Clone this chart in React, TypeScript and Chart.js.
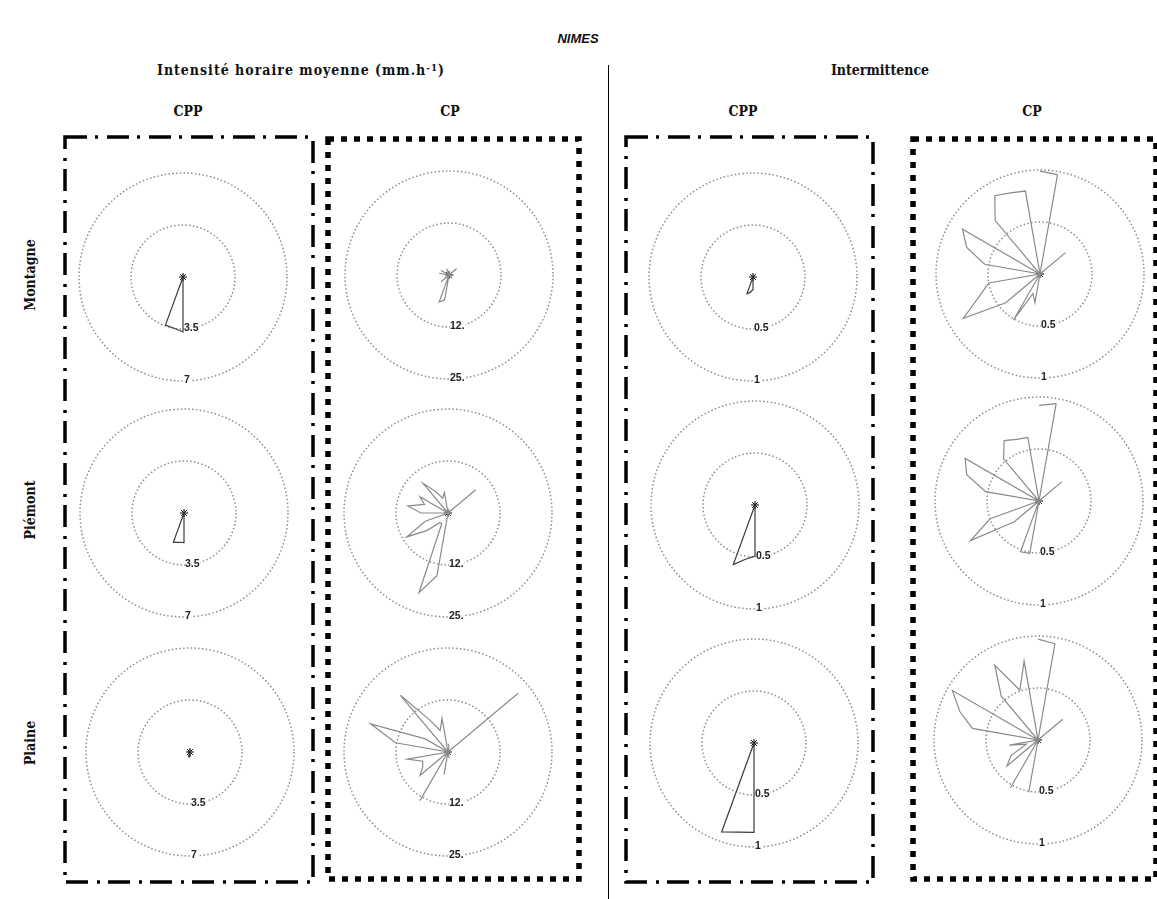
import React, { useEffect, useRef } from 'react';
import { Chart, registerables } from 'chart.js';

Chart.register(...registerables);

// ---------- DATA ----------
const directions = [
  '0', '10', '20', '30', '40', '50', '60', '70', '80', '90', '100', '110',
  '120', '130', '140', '150', '160', '170', '180', '190', '200', '210', '220', '230',
  '240', '250', '260', '270', '280', '290', '300', '310', '320', '330', '340', '350',
];

const stationTitle = 'NIMES';
const zones = ['Montagne', 'Piémont', 'Plaine'];
const groups = ['CPP', 'CP', 'CPP', 'CP'];

// Intensité horaire moyenne (mm.h-1) — CPP
const intensiteCPP_Montagne = [
  0, 0, 0, 0, 0, 0, 0, 0, 0, 0, 0, 0,
  0, 0, 0, 0, 0, 0, 3.7, 3.5, 3.45, 0, 0, 0,
  0, 0, 0, 0, 0, 0, 0, 0, 0, 0, 0, 0,
];
const intensiteCPP_Piemont = [
  0, 0, 0, 0, 0, 0, 0, 0, 0, 0, 0, 0,
  0, 0, 0, 0, 0, 0, 2.0, 2.0, 2.1, 0, 0, 0,
  0, 0, 0, 0, 0, 0, 0, 0, 0, 0, 0, 0,
];
const intensiteCPP_Plaine = [
  0.2, 0, 0, 0, 0, 0.15, 0, 0, 0, 0, 0, 0,
  0, 0, 0, 0, 0, 0, 0.3, 0.35, 0.3, 0, 0, 0,
  0, 0, 0, 0, 0.15, 0, 0, 0, 0, 0, 0, 0,
];

// Intensité horaire moyenne (mm.h-1) — CP
const intensiteCP_Montagne = [
  1.0, 0, 0, 0, 0, 2.4, 0, 0, 0, 1.2, 0, 0,
  0, 0, 1.0, 0, 0, 0, 0, 6.1, 6.9, 0, 0, 2.5,
  0, 0, 0, 0, 2.4, 0, 2.2, 0, 0, 0, 1.6, 0,
];
const intensiteCP_Piemont = [
  1.0, 0, 0, 0, 0, 8.7, 0, 0, 0, 0, 0, 0,
  0, 0, 0, 0, 0, 0, 0, 15.3, 20.4, 3, 3, 6.5,
  11.5, 5.8, 0, 6.5, 9.8, 6, 7.8, 0, 9.3, 6, 3.8, 5.0,
];
const intensiteCP_Plaine = [
  2, 1.5, 0, 0, 0, 22, 0, 0, 0, 0, 0, 0,
  0, 0, 0, 0, 0, 1.5, 0, 5.5, 0, 13.5, 0, 8.8,
  7, 6.5, 9.9, 0, 12.8, 19.8, 6.3, 0, 17.8, 9, 5.5, 8.2,
];

// Intermittence — CPP
const intermittenceCPP_Montagne = [
  0, 0, 0, 0, 0, 0, 0, 0, 0, 0, 0, 0,
  0, 0, 0, 0, 0, 0, 0.12, 0.15, 0.17, 0, 0, 0,
  0, 0, 0, 0, 0, 0, 0, 0, 0, 0, 0, 0,
];
const intermittenceCPP_Piemont = [
  0, 0, 0, 0, 0, 0, 0, 0, 0, 0, 0, 0,
  0, 0, 0, 0, 0, 0, 0.49, 0.53, 0.61, 0, 0, 0,
  0, 0, 0, 0, 0, 0, 0, 0, 0, 0, 0, 0,
];
const intermittenceCPP_Plaine = [
  0, 0, 0, 0, 0, 0, 0, 0, 0, 0, 0, 0,
  0, 0, 0, 0, 0, 0, 0.86, 0.87, 0.91, 0, 0, 0,
  0, 0, 0, 0, 0, 0, 0, 0, 0, 0, 0, 0,
];

// Intermittence — CP
const intermittenceCP_Montagne = [
  0.99, 0.97, 0, 0, 0, 0.32, 0, 0, 0, 0, 0, 0,
  0, 0, 0, 0, 0, 0, 0, 0.28, 0.2, 0.51, 0, 0.43,
  0.85, 0.62, 0.5, 0, 0.54, 0.75, 0.86, 0, 0.67, 0.87, 0.83, 0.81,
];
const intermittenceCP_Piemont = [
  0.92, 0.95, 0, 0, 0, 0.29, 0, 0, 0, 0, 0, 0,
  0, 0, 0, 0, 0, 0, 0, 0.51, 0.52, 0, 0, 0.31,
  0.76, 0.5, 0, 0, 0.52, 0.74, 0.82, 0, 0.53, 0.67, 0.63, 0.62,
];
const intermittenceCP_Plaine = [
  0.97, 0.94, 0, 0, 0, 0.31, 0, 0, 0, 0, 0, 0,
  0, 0, 0, 0, 0, 0, 0, 0.51, 0, 0.53, 0, 0.39,
  0.3, 0.12, 0.28, 0, 0.64, 0.8, 0.95, 0, 0.55, 0.83, 0.51, 0.77,
];

const scaleMax = [7, 25, 1, 1];
const innerTickLabels = ['3.5', '12.', '0.5', '0.5'];
const outerTickLabels = ['7', '25.', '1', '1'];

const grid = [
  [intensiteCPP_Montagne, intensiteCP_Montagne, intermittenceCPP_Montagne, intermittenceCP_Montagne],
  [intensiteCPP_Piemont, intensiteCP_Piemont, intermittenceCPP_Piemont, intermittenceCP_Piemont],
  [intensiteCPP_Plaine, intensiteCP_Plaine, intermittenceCPP_Plaine, intermittenceCP_Plaine],
];

// ---------- LAYOUT / STYLE ----------
const plotCenters = [
  [[183, 277], [449, 275], [753, 277], [1040, 274]],
  [[184, 513], [448, 513], [755, 505], [1039, 501]],
  [[190, 752], [448, 752], [754, 743], [1038, 740]],
];
const lineColors = ['#3c3c3c', '#8a8a8a', '#3c3c3c', '#8a8a8a'];
const CANVAS = 222;
const PAD = 7;
const HALF = CANVAS / 2;

const serif = '"DejaVu Serif Condensed", "DejaVu Serif", "Liberation Serif", serif';

type PlotProps = {
  values: number[];
  max: number;
  inner: string;
  outer: string;
  color: string;
  cx: number;
  cy: number;
};

function RosePlot({ values, max, inner, outer, color, cx, cy }: PlotProps) {
  const ref = useRef<HTMLCanvasElement>(null);
  useEffect(() => {
    const mainData = values.map((v, i) => (i === 0 ? 0 : v));
    const startData = values.map((v, i) => (i <= 1 ? v : null));
    const centre = values.map(() => 0);
    const labelsPlugin = {
      id: 'ringLabels',
      beforeDatasetsDraw(chart: any) {
        const r = chart.scales.r;
        const ctx = chart.ctx as CanvasRenderingContext2D;
        ctx.save();
        ctx.font = 'bold 10.5px "Liberation Sans", Arial, sans-serif';
        ctx.textBaseline = 'middle';
        ctx.textAlign = 'left';
        [
          { value: max / 2, text: inner },
          { value: max, text: outer },
        ].forEach(({ value, text }) => {
          const d = r.getDistanceFromCenterForValue(value);
          const x = r.xCenter + 1;
          const y = r.yCenter + d - 1;
          const w = ctx.measureText(text).width;
          ctx.fillStyle = '#ffffff';
          ctx.fillRect(x, y - 5, w + 1, 10);
          ctx.fillStyle = '#222222';
          ctx.fillText(text, x, y);
        });
        ctx.restore();
      },
    };
    const chart = new Chart(ref.current as HTMLCanvasElement, {
      type: 'radar',
      data: {
        labels: directions,
        datasets: [
          {
            data: mainData,
            borderColor: color,
            borderWidth: 1.2,
            fill: false,
            pointRadius: 0,
            pointHoverRadius: 0,
          },
          {
            data: startData as any,
            borderColor: color,
            borderWidth: 1.2,
            fill: false,
            pointRadius: 0,
            pointHoverRadius: 0,
            spanGaps: false,
          },
          {
            data: centre,
            showLine: false,
            fill: false,
            pointStyle: 'star',
            pointRadius: (c: any) => (c.dataIndex === 0 ? 4 : 0),
            pointBorderColor: '#000',
            pointBackgroundColor: '#000',
            pointBorderWidth: 1,
          } as any,
        ],
      },
      options: {
        animation: false,
        responsive: false,
        maintainAspectRatio: false,
        events: [],
        layout: { padding: PAD },
        plugins: { legend: { display: false }, tooltip: { enabled: false } },
        scales: {
          r: {
            min: 0,
            max,
            angleLines: { display: false },
            pointLabels: { display: false },
            ticks: { display: false },
            grid: { circular: true, color: '#8c8c8c', lineWidth: 1.5 },
            border: { dash: [1.5, 2.3] },
            afterBuildTicks: (s: any) => {
              s.ticks = [{ value: 0 }, { value: max / 2 }, { value: max }];
            },
          } as any,
        },
      },
      plugins: [labelsPlugin],
    });
    return () => chart.destroy();
  }, []);
  return (
    <canvas
      ref={ref}
      width={CANVAS}
      height={CANVAS}
      style={{ position: 'absolute', left: cx - HALF, top: cy - HALF, width: CANVAS, height: CANVAS }}
    />
  );
}

function Label({ x, y, children, style }: { x: number; y: number; children: any; style?: any }) {
  return (
    <div
      style={{
        position: 'absolute',
        left: x,
        top: y,
        transform: 'translate(-50%, -50%)',
        whiteSpace: 'nowrap',
        fontFamily: serif,
        fontWeight: 'bold',
        fontSize: 14,
        color: '#111',
        lineHeight: 1,
        ...style,
      }}
    >
      {children}
    </div>
  );
}

export default function App() {
  const colX = [188, 450, 743, 1032];
  const rowY = [275, 510, 743];
  return (
    <div
      style={{
        position: 'absolute',
        left: 0,
        top: 0,
        width: 1157,
        height: 899,
        background: '#fff',
        overflow: 'hidden',
      }}
    >
      <svg width={1157} height={899} style={{ position: 'absolute', left: 0, top: 0 }}>
        <rect x={65} y={137} width={248} height={745} fill="none" stroke="#000" strokeWidth={3.5} strokeDasharray="22 8 3 9" />
        <rect x={328} y={139} width={251} height={740} fill="none" stroke="#000" strokeWidth={5.5} strokeDasharray="6 7" />
        <rect x={626} y={137} width={247} height={745} fill="none" stroke="#000" strokeWidth={3.5} strokeDasharray="22 8 3 9" />
        <rect x={913} y={139} width={243} height={740} fill="none" stroke="#000" strokeWidth={5.5} strokeDasharray="6 7" />
        <line x1={608.5} y1={65} x2={608.5} y2={899} stroke="#000" strokeWidth={1} />
      </svg>

      <Label
        x={578}
        y={38}
        style={{ fontFamily: '"Liberation Sans", Arial, sans-serif', fontStyle: 'italic', fontSize: 13 }}
      >
        {stationTitle}
      </Label>
      <Label x={301} y={70} style={{ letterSpacing: '1px' }}>
        Intensité horaire moyenne (mm.h<sup style={{ fontSize: '0.7em', verticalAlign: '0.5em' }}>-1</sup>)
      </Label>
      <Label x={880} y={70}>
        Intermittence
      </Label>
      {groups.map((g, i) => (
        <Label key={'g' + i} x={colX[i]} y={111}>
          {g}
        </Label>
      ))}
      {zones.map((z, i) => (
        <div
          key={'z' + i}
          style={{
            position: 'absolute',
            left: 30,
            top: rowY[i],
            transform: 'translate(-50%, -50%) rotate(-90deg)',
            whiteSpace: 'nowrap',
            fontFamily: serif,
            fontWeight: 'bold',
            fontSize: 14,
            color: '#111',
            lineHeight: 1,
          }}
        >
          {z}
        </div>
      ))}

      {grid.map((row, r) =>
        row.map((values, c) => (
          <RosePlot
            key={r + '-' + c}
            values={values}
            max={scaleMax[c]}
            inner={innerTickLabels[c]}
            outer={outerTickLabels[c]}
            color={lineColors[c]}
            cx={plotCenters[r][c][0]}
            cy={plotCenters[r][c][1]}
          />
        ))
      )}
    </div>
  );
}
